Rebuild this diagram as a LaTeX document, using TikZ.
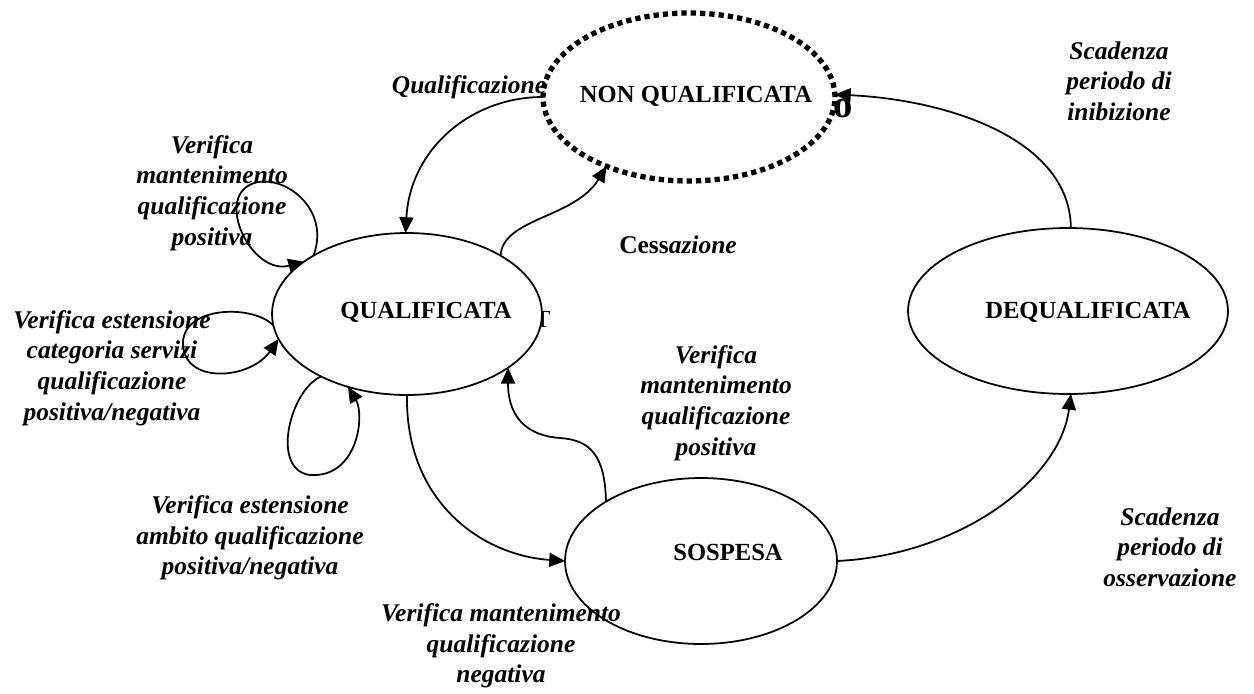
\documentclass[tikz,border=0pt]{standalone}
\usepackage{fontspec}
\setmainfont{Liberation Serif}
\usetikzlibrary{shapes.geometric,arrows.meta}
\begin{document}
\begin{tikzpicture}[x=0.02cm,y=-0.02cm,
  state/.style={ellipse,draw,line width=1pt,fill=white,inner sep=0pt,outer sep=0pt},
  dotstate/.style={ellipse,draw,line width=3pt,dash pattern=on 3pt off 2.3pt,inner sep=0pt,outer sep=0pt},
  lbl/.style={font=\fontsize{14.5}{17.4}\selectfont\bfseries\itshape,align=center,inner sep=0pt},
  stname/.style={font=\fontsize{14}{17}\selectfont\bfseries,inner sep=0pt,anchor=base},
  stray/.style={font=\fontsize{14}{17}\selectfont,inner sep=0pt,anchor=base},
  arr/.style={line width=1pt,-{Triangle[length=9pt,width=8pt]}}
]
\useasboundingbox (0,0) rectangle (1254,693);
% stray glyphs
\node[stray] (strayT) at (543,327) {T};
\node[stray,font=\fontsize{22}{24}\selectfont\bfseries] (strayo) at (843,117) {o};
% states
\node[state,minimum width=5.4cm,minimum height=3.24cm] (q) at (407,314) {};
\node[stname] (qt) at (426,318) {QUALIFICATA};
\node[dotstate,minimum width=5.84cm,minimum height=3.36cm] (nq) at (689,97) {};
\node[stname] (nqt) at (696,102) {NON QUALIFICATA};
\node[state,minimum width=6.4cm,minimum height=3.32cm] (d) at (1068,311) {};
\node[stname] (dt) at (1088,318) {DEQUALIFICATA};
\node[state,minimum width=5.44cm,minimum height=3.32cm] (s) at (701,561) {};
\node[stname] (st) at (728,560) {SOSPESA};
% transitions
\draw[arr] (nq.180) .. controls (470,97) and (410,150) .. (q.91);
\draw[arr] (q.32) .. controls (503,218) and (575,218) .. (nq.220);
\draw[arr] (s.148) .. controls (605,455) and (590,440) .. (560,438) .. controls (530,436) and (508,420) .. (q.-28);
\draw[arr] (q.270) .. controls (405,500) and (480,555) .. (s.180);
\draw[arr] (s.0) .. controls (960,555) and (1060,480) .. (d.-88);
\draw[arr] (d.88) .. controls (1070,140) and (950,100) .. (nq.1);
% self loops
\draw[arr] (q.148) .. controls (333,203) and (272,166) .. (245,188) .. controls (220,210) and (255,275) .. (q.153);
\draw[arr] (q.185) .. controls (255,305) and (185,305) .. (183,342) .. controls (182,385) and (250,380) .. (q.191);
\draw[arr] (q.216) .. controls (290,390) and (270,470) .. (310,475) .. controls (358,478) and (365,415) .. (q.231);
% labels
\node[lbl] (l1) at (469,87) {Qualificazione};
\node[lbl] (l2) at (212,193) {Verifica\\mantenimento\\qualificazione\\positiva};
\node[lbl] (l3) at (112,368) {Verifica estensione\\categoria servizi\\qualificazione\\positiva/negativa};
\node[lbl] (l4) at (250,538) {Verifica estensione\\ambito qualificazione\\positiva/negativa};
\node[lbl] (l5) at (501,646) {Verifica mantenimento\\qualificazione\\negativa};
\node[lbl] (l6) at (678,245) {{\upshape Cess}azione};
\node[lbl] (l7) at (716,403) {Verifica\\mantenimento\\qualificazione\\positiva};
\node[lbl] (l8) at (1119,81) {Scadenza\\periodo di\\inibizione};
\node[lbl] (l9) at (1170,547) {Scadenza\\periodo di\\osservazione};
\end{tikzpicture}
\end{document}
